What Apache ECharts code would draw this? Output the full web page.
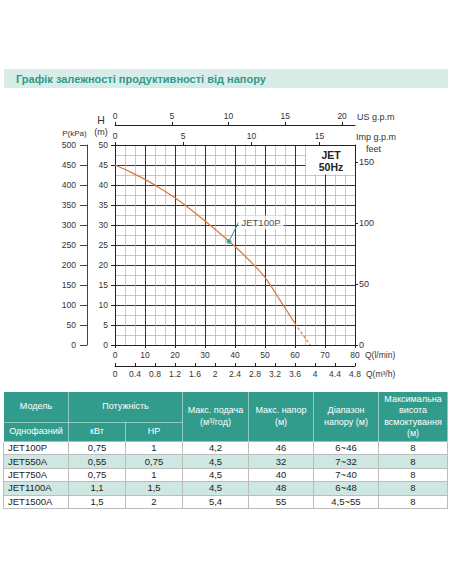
<!DOCTYPE html>
<html><head><meta charset="utf-8">
<script src="https://cdn.jsdelivr.net/npm/echarts@6.0.0/dist/echarts.min.js"></script>
<style>
html,body{margin:0;padding:0;background:#fff;}
body{width:452px;height:584px;position:relative;overflow:hidden;font-family:'Liberation Sans',Arial,sans-serif;}
#chart{position:absolute;left:0;top:0;width:452px;height:390px;}
#spec{position:absolute;left:3px;top:391px;width:444px;border-collapse:collapse;table-layout:fixed;}
#spec th{background:#329c8c;color:#fff;font-weight:normal;font-size:9px;line-height:11.5px;padding:0;text-align:center;vertical-align:middle;border:1px solid rgba(255,255,255,0.45);}
#spec td{font-size:9.5px;color:#222;height:12.4px;padding:0;text-align:center;border:1px solid #bdbdbd;line-height:12px;}
#spec td.m{text-align:left;padding-left:4px;}
#spec tr.alt td{background:#cfe7e2;}
</style></head>
<body>
<div id="chart"></div>
<table id="spec">
<colgroup><col style="width:65px"><col style="width:57px"><col style="width:57px"><col style="width:66px"><col style="width:65px"><col style="width:65px"><col style="width:69px"></colgroup>
<thead>
<tr style="height:31px"><th>Модель</th><th colspan="2">Потужність</th><th rowspan="2">Макс. подача<br>(м³/год)</th><th rowspan="2">Макс. напор<br>(м)</th><th rowspan="2">Діапазон<br>напору (м)</th><th rowspan="2">Максимальна<br>висота<br>всмоктування<br>(м)</th></tr>
<tr style="height:19px"><th>Однофазний</th><th>кВт</th><th>HP</th></tr>
</thead>
<tbody id="specBody"></tbody>
</table>
<script>
// ---- curve data (Q in l/min, H in m) ----
const flowLpm = [0, 5, 10, 15, 20, 25, 30, 35, 40, 45, 50, 55, 60];
const headM   = [45.0, 43.3, 41.4, 39.2, 36.8, 34.0, 31.0, 27.9, 24.6, 21.0, 16.9, 11.2, 5.4];
const dashFlowLpm = [60, 65];
const dashHeadM   = [5.4, 0];
const pointFlowHead = [38, 25.9];
const pointLabel = 'JET100P';

// ---- tick labels ----
const usGpmTicks  = [0, 5, 10, 15, 20];
const impGpmTicks = [0, 5, 10, 15];
const feetTicks   = [0, 50, 100, 150];
const flowMax = 80, headMax = 50, pressureMax = 500;
const LPM_PER_USGPM = 3.785411784, LPM_PER_IMPGPM = 4.54609, M_PER_FT = 0.3048, M3H_PER_LPM = 0.06;

// ---- table data ----
const models    = ['JET100P', 'JET550A', 'JET750A', 'JET1100A', 'JET1500A'];
const powerKw   = ['0,75', '0,55', '0,75', '1,1', '1,5'];
const powerHp   = ['1', '0,75', '1', '1,5', '2'];
const maxFlow   = ['4,2', '4,5', '4,5', '4,5', '5,4'];
const maxHead   = ['46', '32', '40', '48', '55'];
const headRange = ['6~46', '7~32', '7~40', '6~48', '4,5~55'];
const suction   = ['8', '8', '8', '8', '8'];

document.getElementById('specBody').innerHTML = models.map((m, i) =>
  `<tr class="${i % 2 ? 'alt' : ''}"><td class="m">${m}</td><td>${powerKw[i]}</td><td>${powerHp[i]}</td><td>${maxFlow[i]}</td><td>${maxHead[i]}</td><td>${headRange[i]}</td><td>${suction[i]}</td></tr>`
).join('');

const FONT = 'Liberation Sans, Arial, sans-serif';
const TXT = '#333';
const AXIS = '#222';
const TEAL = '#2a9a86';
const ORANGE = '#dc7a3c';
const lbl = (extra) => Object.assign({fontSize: 8.5, color: TXT, fontFamily: FONT}, extra || {});
const line = (color) => ({show: true, onZero: false, lineStyle: {color: color || AXIS, width: 1}});

const chart = echarts.init(document.getElementById('chart'), null, {renderer: 'svg'});
chart.setOption({
  animation: false,
  textStyle: {fontFamily: FONT},
  title: {
    text: 'Графік залежності продуктивності від напору',
    left: 16, top: 73, padding: 0,
    textStyle: {fontSize: 11, fontWeight: 'bold', color: '#2f9a8b', fontFamily: FONT}
  },
  grid: {left: 115, top: 145, width: 240, height: 200, containLabel: false},
  graphic: [
    {type: 'rect', z: -10, shape: {x: 4, y: 69, width: 444, height: 19}, style: {fill: '#d9ede8'}},
    {type: 'rect', z: 100, shape: {x: 306, y: 146, width: 48.5, height: 28.5}, style: {fill: '#fff'}},
    {type: 'text', z: 101, x: 331, y: 155, style: {text: 'JET', fontSize: 10.5, fontWeight: 'bold', fontFamily: FONT, fill: '#222', align: 'center', verticalAlign: 'middle'}},
    {type: 'text', z: 101, x: 331, y: 166.5, style: {text: '50Hz', fontSize: 10.5, fontWeight: 'bold', fontFamily: FONT, fill: '#222', align: 'center', verticalAlign: 'middle'}}
  ],
  xAxis: [
    {
      type: 'value', position: 'bottom', min: 0, max: flowMax, interval: 10,
      name: 'Q(l/min)', nameLocation: 'end', nameGap: 10, nameMoveOverlap: false,
      nameTextStyle: lbl({verticalAlign: 'top', padding: [5, 0, 0, 0]}),
      axisLine: line(),
      axisTick: {show: true, length: 3, lineStyle: {color: AXIS}},
      axisLabel: lbl({margin: 5.5}),
      splitLine: {show: true, lineStyle: {color: '#333', width: 1}},
      minorTick: {show: false, splitNumber: 3},
      minorSplitLine: {show: true, lineStyle: {color: '#b0b0b0', width: 0.7}}
    },
    {
      type: 'value', position: 'bottom', offset: 21, min: 0, max: flowMax * M3H_PER_LPM, interval: 0.4,
      name: 'Q(m³/h)', nameLocation: 'end', nameGap: 11, nameMoveOverlap: false,
      nameTextStyle: lbl({verticalAlign: 'top', padding: [3.5, 0, 0, 0]}),
      axisLine: line(),
      axisTick: {show: true, inside: true, length: 3, lineStyle: {color: AXIS}},
      axisLabel: lbl({margin: 3.5, formatter: v => String(+v.toFixed(1))}),
      splitLine: {show: false}
    },
    {
      type: 'value', position: 'top', offset: 20, min: 0, max: flowMax / LPM_PER_USGPM,
      name: 'US g.p.m', nameLocation: 'end', nameGap: 2, nameMoveOverlap: false,
      nameTextStyle: lbl({fontSize: 9, verticalAlign: 'bottom', padding: [0, 0, 4, 0]}),
      axisLine: line(),
      axisTick: {show: true, length: 3, customValues: usGpmTicks, lineStyle: {color: AXIS}},
      axisLabel: lbl({margin: 4.5, customValues: usGpmTicks}),
      splitLine: {show: false}
    },
    {
      type: 'value', position: 'top', offset: 0, min: 0, max: flowMax / LPM_PER_IMPGPM,
      name: 'Imp g.p.m', nameLocation: 'end', nameGap: 1, nameMoveOverlap: false,
      nameTextStyle: lbl({fontSize: 9, verticalAlign: 'bottom', padding: [0, 0, 4, 0]}),
      axisLine: line(),
      axisTick: {show: true, length: 3, customValues: impGpmTicks, lineStyle: {color: AXIS}},
      axisLabel: lbl({margin: 4.5, customValues: impGpmTicks}),
      splitLine: {show: false}
    }
  ],
  yAxis: [
    {
      type: 'value', position: 'left', min: 0, max: headMax, interval: 5,
      name: '{h|H}\n{m|(m)}', nameLocation: 'end', nameGap: 8, nameMoveOverlap: false,
      nameTextStyle: {align: 'center', verticalAlign: 'bottom', padding: [0, 28, 0, 0],
        rich: {h: {fontSize: 10.5, color: TXT, lineHeight: 12, fontFamily: FONT}, m: {fontSize: 9, color: TXT, lineHeight: 11, fontFamily: FONT}}},
      axisLine: line(),
      axisTick: {show: true, length: 4, lineStyle: {color: AXIS}},
      axisLabel: lbl({margin: 7}),
      splitLine: {show: true, lineStyle: {color: '#333', width: 1}},
      minorTick: {show: false, splitNumber: 2},
      minorSplitLine: {show: true, lineStyle: {color: '#b0b0b0', width: 0.7}}
    },
    {
      type: 'value', position: 'left', offset: 28, min: 0, max: pressureMax, interval: 50,
      name: 'P(kPa)', nameLocation: 'end', nameGap: 8, nameMoveOverlap: false,
      nameTextStyle: lbl({fontSize: 8, align: 'center', verticalAlign: 'bottom', padding: [0, 25, 0, 0]}),
      axisLine: line('#444'),
      axisTick: {show: true, length: 7, lineStyle: {color: '#444'}},
      axisLabel: lbl({margin: 11}),
      splitLine: {show: false}
    },
    {
      type: 'value', position: 'right', min: 0, max: headMax / M_PER_FT,
      name: 'feet', nameLocation: 'end', nameGap: 1, nameMoveOverlap: false,
      nameTextStyle: lbl({fontSize: 9, align: 'left', verticalAlign: 'top', padding: [0, 0, 0, 11]}),
      axisLine: line(),
      axisTick: {show: true, length: 3, customValues: feetTicks, lineStyle: {color: AXIS}},
      axisLabel: lbl({fontSize: 9, margin: 4, customValues: feetTicks}),
      splitLine: {show: false}
    }
  ],
  series: [
    {
      type: 'line', xAxisIndex: 0, yAxisIndex: 0, smooth: 0.3, showSymbol: false, z: 5,
      data: flowLpm.map((q, i) => [q, headM[i]]),
      lineStyle: {color: ORANGE, width: 1.3}
    },
    {
      type: 'line', xAxisIndex: 0, yAxisIndex: 0, showSymbol: false, z: 5,
      data: dashFlowLpm.map((q, i) => [q, dashHeadM[i]]),
      lineStyle: {color: ORANGE, width: 1.1, type: [3, 2]}
    },
    {
      type: 'scatter', xAxisIndex: 0, yAxisIndex: 0, z: 20,
      symbolSize: 5, itemStyle: {color: TEAL},
      data: [{value: pointFlowHead, name: pointLabel}],
      label: {show: true, position: 'inside', formatter: '{b}', fontSize: 9.5, color: '#222', fontFamily: FONT,
        backgroundColor: '#fff', padding: [2, 3]},
      labelLayout: {dx: 32, dy: -19},
      labelLine: {show: true, lineStyle: {color: TEAL, width: 1}}
    }
  ]
});
</script>
</body></html>
